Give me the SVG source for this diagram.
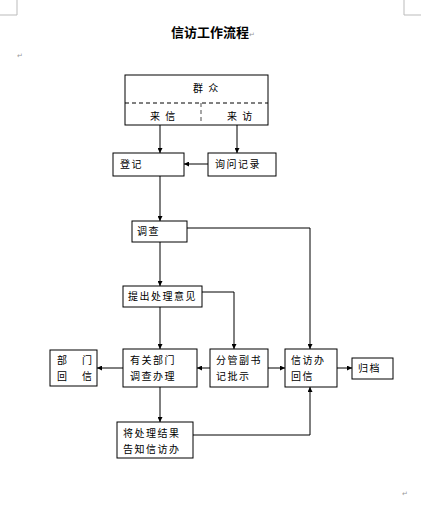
<svg xmlns="http://www.w3.org/2000/svg" width="432" height="505" viewBox="0 0 432 505">
<defs>
<marker id="ah" viewBox="0 0 8 8" refX="8" refY="4" markerWidth="5" markerHeight="5" orient="auto" markerUnits="userSpaceOnUse">
<path d="M0,0 L8,4 L0,8 z" fill="#000"/>
</marker>
<style>
.box{fill:#fff;stroke:#000;stroke-width:1}
.t{font-family:"Noto Sans CJK SC","Noto Sans",sans-serif;font-size:10px;fill:#000;letter-spacing:1.5px}
.pm{font-family:"DejaVu Sans",sans-serif;font-size:7px;fill:#999}
.c{fill:none;stroke:#000;stroke-width:1;marker-end:url(#ah)}
.crn{fill:none;stroke:#bbb;stroke-width:1}
</style>
</defs>
<rect width="432" height="505" fill="#fff"/>
<path class="crn" d="M17,0 V15 H0 M404,0 V15 H421"/>
<text x="171" y="37" font-family="Noto Sans CJK SC,sans-serif" font-size="13" font-weight="bold">信访工作流程</text>
<text x="249" y="37" class="pm" font-size="9">↵</text>
<text x="17" y="58" class="pm">↵</text>
<text x="402" y="496" class="pm">↵</text>

<g id="qunzhong">
<rect class="box" x="125" y="75" width="143" height="50"/>
<path d="M125,103 H268" stroke="#000" stroke-dasharray="4,3" fill="none"/>
<path d="M201,103 V125" stroke="#888" stroke-width="1.5" stroke-dasharray="4,3" fill="none"/>
<text class="t" x="193" y="92">群 众</text>
<text class="t" x="150" y="120">来 信</text>
<text class="t" x="227" y="120">来 访</text>
</g>
<g id="dengji"><rect class="box" x="113" y="153" width="71" height="23"/><text class="t" x="120" y="168">登记</text></g>
<g id="xunwen"><rect class="box" x="208" y="153" width="68" height="23"/><text class="t" x="215" y="168">询问记录</text></g>
<g id="diaocha"><rect class="box" x="132" y="221" width="55" height="21"/><text class="t" x="137" y="235">调查</text></g>
<g id="tichu"><rect class="box" x="123" y="286" width="79" height="21"/><text class="t" x="128" y="300">提出处理意见</text></g>
<g id="bumenhuixin"><rect class="box" x="50" y="350" width="47" height="36"/><text class="t" x="57" y="364" letter-spacing="0">部</text><text class="t" x="82" y="364">门</text><text class="t" x="57" y="380">回</text><text class="t" x="82" y="380">信</text></g>
<g id="youguan"><rect class="box" x="123" y="349" width="74" height="38"/><text class="t" x="130" y="364">有关部门</text><text class="t" x="130" y="380">调查办理</text></g>
<g id="fenguan"><rect class="box" x="210" y="349" width="58" height="38"/><text class="t" x="216" y="364" letter-spacing="3">分管副书</text><text class="t" x="216" y="380">记批示</text></g>
<g id="xinfangban"><rect class="box" x="285" y="349" width="52" height="38"/><text class="t" x="291" y="364" letter-spacing="3">信访办</text><text class="t" x="291" y="380">回信</text></g>
<g id="guidang"><rect class="box" x="352" y="358" width="41" height="21"/><text class="t" x="358" y="372">归档</text></g>
<g id="jiang"><rect class="box" x="117" y="422" width="76" height="36"/><text class="t" x="123" y="437" letter-spacing="2.5">将处理结果</text><text class="t" x="123" y="453" letter-spacing="0.5">告知信访办</text></g>

<g id="connectors">
<path class="c" d="M160,125 V153"/>
<path class="c" d="M237,125 V153"/>
<path class="c" d="M208,164 H184"/>
<path class="c" d="M160,176 V221"/>
<path class="c" d="M187,228 H310 V349"/>
<path class="c" d="M160,242 V286"/>
<path class="c" d="M202,292 H234 V349"/>
<path class="c" d="M160,307 V349"/>
<path class="c" d="M123,368 H97"/>
<path class="c" d="M210,368 H197"/>
<path class="c" d="M268,368 H285"/>
<path class="c" d="M337,368 H352"/>
<path class="c" d="M160,387 V422"/>
<path class="c" d="M193,435 H310 V387"/>
</g>
</svg>
